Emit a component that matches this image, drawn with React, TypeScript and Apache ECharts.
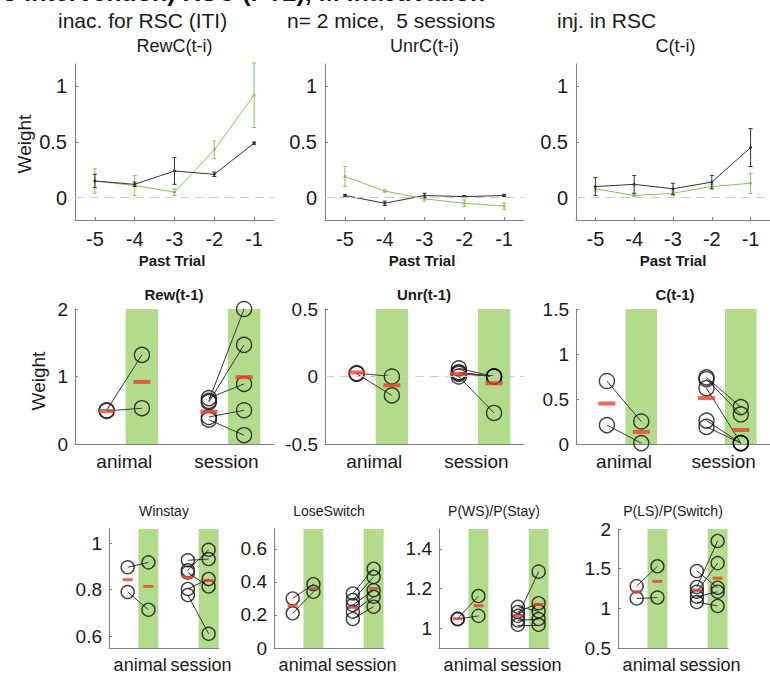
import React, { useEffect, useRef } from "react";
import * as echarts from "echarts";

const FONT = "'Liberation Sans', Arial, Helvetica, sans-serif";

// ---------- Row 1: logistic weights vs past trial ----------
const pastTrials = [-5, -4, -3, -2, -1];
const topTitles = ["RewC(t-i)", "UnrC(t-i)", "C(t-i)"];

const rewcCtrl = [0.15, 0.12, 0.24, 0.21, 0.49];
const rewcCtrlErr = [0.06, 0.02, 0.12, 0.02, 0.01];
const rewcInac = [0.15, 0.11, 0.05, 0.43, 0.92];
const rewcInacErr = [0.11, 0.09, 0.03, 0.08, 0.29];

const unrcCtrl = [0.02, -0.05, 0.02, 0.01, 0.02];
const unrcCtrlErr = [0.01, 0.02, 0.02, 0.01, 0.01];
const unrcInac = [0.19, 0.06, -0.01, -0.05, -0.075];
const unrcInacErr = [0.09, 0.01, 0.02, 0.03, 0.03];

const cCtrl = [0.1, 0.12, 0.08, 0.14, 0.45];
const cCtrlErr = [0.08, 0.08, 0.05, 0.06, 0.17];
const cInac = [0.08, 0.02, 0.04, 0.1, 0.13];
const cInacErr = [0.02, 0.01, 0.02, 0.02, 0.09];

const topYTicks = [0, 0.5, 1];

// ---------- Rows 2 & 3: paired points ----------
const groupLabels = ["animal", "session"];

const rewAnimalCtrl = [0.5, 0.49];
const rewAnimalInac = [1.32, 0.53];
const rewSessionCtrl = [0.64, 0.62, 0.68, 0.4, 0.36];
const rewSessionInac = [2.0, 1.47, 0.89, 0.5, 0.13];
const rewMeans = [0.49, 0.92, 0.48, 0.99];

const unrAnimalCtrl = [0.025, 0.02];
const unrAnimalInac = [0.0, -0.14];
const unrSessionCtrl = [0.06, 0.0, 0.03, 0.02, 0.03];
const unrSessionInac = [0.0, -0.27, 0.0, 0.0, 0.0];
const unrMeans = [0.03, -0.065, 0.02, -0.05];

const cAnimalCtrl = [0.7, 0.21];
const cAnimalInac = [0.25, 0.01];
const cSessionCtrl = [0.74, 0.72, 0.62, 0.26, 0.19];
const cSessionInac = [0.41, 0.33, 0.01, 0.01, 0.01];
const cMeans = [0.45, 0.135, 0.51, 0.155];

const wsAnimalCtrl = [0.896, 0.79];
const wsAnimalInac = [0.917, 0.714];
const wsSessionCtrl = [0.926, 0.883, 0.803, 0.873, 0.777];
const wsSessionInac = [0.931, 0.971, 0.846, 0.814, 0.611];
const wsMeans = [0.843, 0.814, 0.853, 0.839];

const lsAnimalCtrl = [0.3, 0.21];
const lsAnimalInac = [0.386, 0.34];
const lsSessionCtrl = [0.33, 0.29, 0.26, 0.22, 0.176];
const lsSessionInac = [0.48, 0.43, 0.35, 0.31, 0.25];
const lsMeans = [0.256, 0.36, 0.246, 0.36];

const pwsAnimalCtrl = [1.048, 1.045];
const pwsAnimalInac = [1.162, 1.062];
const pwsSessionCtrl = [1.062, 1.082, 1.108, 1.039, 1.017];
const pwsSessionInac = [1.285, 1.126, 1.085, 1.046, 1.017];
const pwsMeans = [1.048, 1.113, 1.062, 1.12];

const plsAnimalCtrl = [1.28, 1.124];
const plsAnimalInac = [1.53, 1.136];
const plsSessionCtrl = [1.27, 1.21, 1.47, 1.145, 1.08];
const plsSessionInac = [1.85, 1.57, 1.26, 1.21, 1.03];
const plsMeans = [1.21, 1.34, 1.23, 1.38];

// x positions: animal ctrl, animal inac, session ctrl, session inac
const POS = [1, 2, 3.9, 4.9];

const INK = "#1a1a1a";
const AXIS = "#808080";
const GREEN_LINE = "#86c25a";
const GREEN_BAR = "#b3db8c";
const RED = "#e8402c";

type Panel = {
  title: string;
  aCtrl: number[];
  aInac: number[];
  sCtrl: number[];
  sInac: number[];
  means: number[];
  min: number;
  max: number;
  ticks: number[];
  zero?: boolean;
};

const midPanels: Panel[] = [
  { title: "Rew(t-1)", aCtrl: rewAnimalCtrl, aInac: rewAnimalInac, sCtrl: rewSessionCtrl, sInac: rewSessionInac, means: rewMeans, min: 0, max: 2, ticks: [0, 1, 2] },
  { title: "Unr(t-1)", aCtrl: unrAnimalCtrl, aInac: unrAnimalInac, sCtrl: unrSessionCtrl, sInac: unrSessionInac, means: unrMeans, min: -0.5, max: 0.5, ticks: [-0.5, 0, 0.5], zero: true },
  { title: "C(t-1)", aCtrl: cAnimalCtrl, aInac: cAnimalInac, sCtrl: cSessionCtrl, sInac: cSessionInac, means: cMeans, min: 0, max: 1.5, ticks: [0, 0.5, 1, 1.5] },
];

const botPanels: Panel[] = [
  { title: "Winstay", aCtrl: wsAnimalCtrl, aInac: wsAnimalInac, sCtrl: wsSessionCtrl, sInac: wsSessionInac, means: wsMeans, min: 0.55, max: 1.06, ticks: [0.6, 0.8, 1] },
  { title: "LoseSwitch", aCtrl: lsAnimalCtrl, aInac: lsAnimalInac, sCtrl: lsSessionCtrl, sInac: lsSessionInac, means: lsMeans, min: 0, max: 0.72, ticks: [0, 0.2, 0.4, 0.6] },
  { title: "P(WS)/P(Stay)", aCtrl: pwsAnimalCtrl, aInac: pwsAnimalInac, sCtrl: pwsSessionCtrl, sInac: pwsSessionInac, means: pwsMeans, min: 0.9, max: 1.5, ticks: [1, 1.2, 1.4] },
  { title: "P(LS)/P(Switch)", aCtrl: plsAnimalCtrl, aInac: plsAnimalInac, sCtrl: plsSessionCtrl, sInac: plsSessionInac, means: plsMeans, min: 0.5, max: 2, ticks: [0.5, 1, 1.5, 2] },
];

const fmt = (v: number) => String(Math.round(v * 100) / 100);

function buildOption() {
  const grid: any[] = [];
  const xAxis: any[] = [];
  const yAxis: any[] = [];
  const series: any[] = [];
  const graphic: any[] = [];

  const axisLine = { show: true, onZero: false, lineStyle: { color: AXIS, width: 1 } };

  // ---- Row 1 ----
  const topData = [
    [rewcCtrl, rewcCtrlErr, rewcInac, rewcInacErr],
    [unrcCtrl, unrcCtrlErr, unrcInac, unrcInacErr],
    [cCtrl, cCtrlErr, cInac, cInacErr],
  ];
  const topLefts = [75, 325, 576];
  topData.forEach((d, i) => {
    const gi = grid.length;
    const left = topLefts[i];
    grid.push({ left, top: 64, width: 199, height: 156 });
    xAxis.push({
      type: "value", gridIndex: gi, min: -5.5, max: -0.5,
      axisLine, splitLine: { show: false },
      axisTick: { show: true, inside: true, length: 3, customValues: pastTrials, lineStyle: { color: AXIS } },
      axisLabel: { customValues: pastTrials, fontSize: 20, margin: 9, color: INK, fontFamily: FONT, formatter: fmt },
    });
    yAxis.push({
      type: "value", gridIndex: gi, min: -0.2, max: 1.2,
      axisLine, splitLine: { show: false },
      axisTick: { show: true, inside: true, length: 3, customValues: topYTicks, lineStyle: { color: AXIS } },
      axisLabel: { customValues: topYTicks, fontSize: 20, margin: 8, color: INK, fontFamily: FONT, formatter: fmt },
    });
    const mk = (vals: number[], errs: number[], color: string, withZero: boolean, z: number) => {
      series.push({
        type: "line", xAxisIndex: gi, yAxisIndex: gi, z,
        data: pastTrials.map((x, k) => [x, vals[k]]),
        symbol: "circle", symbolSize: 3, showSymbol: true,
        lineStyle: { color, width: 1 }, itemStyle: { color },
        silent: true,
        markLine: withZero ? {
          silent: true, symbol: ["none", "none"], label: { show: false },
          lineStyle: { color: "#cccccc", type: [9, 6], width: 1 },
          data: [{ yAxis: 0 }],
        } : undefined,
      });
      series.push({
        type: "custom", xAxisIndex: gi, yAxisIndex: gi, z, silent: true,
        data: pastTrials.map((x, k) => [x, vals[k], errs[k]]),
        renderItem: (params: any, api: any) => {
          const x = api.value(0), m = api.value(1), e = api.value(2);
          const hi = api.coord([x, m + e]);
          const lo = api.coord([x, m - e]);
          const st = { stroke: color, lineWidth: 1 };
          return {
            type: "group",
            children: [
              { type: "line", shape: { x1: hi[0], y1: hi[1], x2: lo[0], y2: lo[1] }, style: st },
              { type: "line", shape: { x1: hi[0] - 2, y1: hi[1], x2: hi[0] + 2, y2: hi[1] }, style: st },
              { type: "line", shape: { x1: lo[0] - 2, y1: lo[1], x2: lo[0] + 2, y2: lo[1] }, style: st },
            ],
          };
        },
      });
    };
    mk(d[2], d[3], GREEN_LINE, true, 3);
    mk(d[0], d[1], "#333333", false, 4);

    graphic.push({
      type: "text", x: left + 99.5, y: 46,
      style: { text: topTitles[i], font: `18px ${FONT}`, fill: INK, textAlign: "center", textVerticalAlign: "middle" },
    });
    graphic.push({
      type: "text", x: left + 97, y: 260,
      style: { text: "Past Trial", font: `bold 15px ${FONT}`, fill: INK, textAlign: "center", textVerticalAlign: "middle" },
    });
  });

  // ---- Rows 2 & 3 ----
  const addPaired = (p: Panel, left: number, top: number, width: number, height: number, xmax: number, big: boolean, labelPos: number[], titleY: number) => {
    const gi = grid.length;
    grid.push({ left, top, width, height });
    xAxis.push({
      type: "value", gridIndex: gi, min: 0.1, max: xmax,
      axisLine, splitLine: { show: false }, axisTick: { show: false },
      axisLabel: {
        customValues: labelPos, fontSize: big ? 19 : 18, margin: 8, color: INK, fontFamily: FONT,
        hideOverlap: false, showMinLabel: true, showMaxLabel: true,
        formatter: (v: number) => (Math.abs(v - labelPos[0]) < 1e-6 ? groupLabels[0] : groupLabels[1]),
      },
    });
    yAxis.push({
      type: "value", gridIndex: gi, min: p.min, max: p.max,
      axisLine, splitLine: { show: false },
      axisTick: { show: true, inside: true, length: 3, customValues: p.ticks, lineStyle: { color: AXIS } },
      axisLabel: { customValues: p.ticks, fontSize: 19, margin: 7, color: INK, fontFamily: FONT, formatter: fmt },
    });
    const barW = big ? 0.92 : 0.96;
    series.push({
      type: "custom", xAxisIndex: gi, yAxisIndex: gi, z: 1, silent: true,
      data: [[POS[1], p.min], [POS[3], p.min]],
      renderItem: (params: any, api: any) => {
        const c = api.coord([api.value(0), api.value(1)]);
        const w = api.size([barW, 0])[0];
        const cs = params.coordSys;
        return { type: "rect", shape: { x: c[0] - w / 2, y: cs.y, width: w, height: cs.height }, style: { fill: GREEN_BAR } };
      },
    });
    const pairs: any[] = [];
    p.aCtrl.forEach((v, k) => pairs.push({ coords: [[POS[0], v], [POS[1], p.aInac[k]]] }));
    p.sCtrl.forEach((v, k) => pairs.push({ coords: [[POS[2], v], [POS[3], p.sInac[k]]] }));
    series.push({
      type: "lines", coordinateSystem: "cartesian2d", xAxisIndex: gi, yAxisIndex: gi, z: 2, silent: true,
      data: pairs,
      lineStyle: { color: "#3a3a3a", width: 1, opacity: 1 },
      markLine: p.zero ? {
        silent: true, symbol: ["none", "none"], label: { show: false },
        lineStyle: { color: "#cccccc", type: [9, 6], width: 1 },
        data: [{ yAxis: 0 }],
      } : undefined,
    });
    const pts: number[][] = [];
    p.aCtrl.forEach((v) => pts.push([POS[0], v]));
    p.aInac.forEach((v) => pts.push([POS[1], v]));
    p.sCtrl.forEach((v) => pts.push([POS[2], v]));
    p.sInac.forEach((v) => pts.push([POS[3], v]));
    series.push({
      type: "scatter", xAxisIndex: gi, yAxisIndex: gi, z: 3, silent: true,
      data: pts, symbol: "circle", symbolSize: big ? 15 : 13,
      itemStyle: { color: "rgba(0,0,0,0)", borderColor: "#111111", borderWidth: 1.4 },
    });
    series.push({
      type: "scatter", xAxisIndex: gi, yAxisIndex: gi, z: 4, silent: true,
      data: p.means.map((m, k) => [POS[k], m]),
      symbol: "rect", symbolSize: big ? [17, 4] : [10, 3],
      itemStyle: { color: RED },
    });
    graphic.push({
      type: "text", x: left + (big ? 99 : 55), y: titleY,
      style: {
        text: p.title, font: big ? `bold 15px ${FONT}` : `14px ${FONT}`, fill: INK,
        textAlign: "center", textVerticalAlign: "middle",
      },
    });
  };

  const midLefts = [75, 325, 576];
  midPanels.forEach((p, i) => addPaired(p, midLefts[i], 309, 199, 135, 5.75, true, [1.5, 4.4], 294));
  const botLefts = [109, 274, 439, 618];
  botPanels.forEach((p, i) => addPaired(p, botLefts[i], 529, 110, 119, 5.4, false, [1.6, 4.53], 511));

  // ---- Free texts ----
  graphic.push({
    type: "text", x: 2, y: -21,
    style: { text: "o intervention) RSC (PT2), M inactivation", font: `bold 25px ${FONT}`, fill: "#111", textAlign: "left", textVerticalAlign: "top" },
  });
  const heads = [
    { t: "inac. for RSC (ITI)", x: 58 },
    { t: "n= 2 mice,  5 sessions", x: 287 },
    { t: "inj. in RSC", x: 557 },
  ];
  heads.forEach((h) =>
    graphic.push({
      type: "text", x: h.x, y: 20,
      style: { text: h.t, font: `21px ${FONT}`, fill: INK, textAlign: "left", textVerticalAlign: "middle" },
    })
  );
  graphic.push({
    type: "text", x: 24, y: 144, rotation: Math.PI / 2,
    style: { text: "Weight", font: `19px ${FONT}`, fill: INK, textAlign: "center", textVerticalAlign: "middle" },
  });
  graphic.push({
    type: "text", x: 38, y: 381, rotation: Math.PI / 2,
    style: { text: "Weight", font: `19px ${FONT}`, fill: INK, textAlign: "center", textVerticalAlign: "middle" },
  });

  return {
    animation: false,
    backgroundColor: "#ffffff",
    textStyle: { fontFamily: FONT },
    grid, xAxis, yAxis, series, graphic,
  };
}

export default function App() {
  const ref = useRef<HTMLDivElement>(null);
  useEffect(() => {
    document.body.style.margin = "0";
    if (!ref.current) return;
    const chart = echarts.init(ref.current, undefined, { renderer: "svg" });
    chart.setOption(buildOption() as any);
    return () => chart.dispose();
  }, []);
  return <div ref={ref} style={{ width: 770, height: 674 }} />;
}
